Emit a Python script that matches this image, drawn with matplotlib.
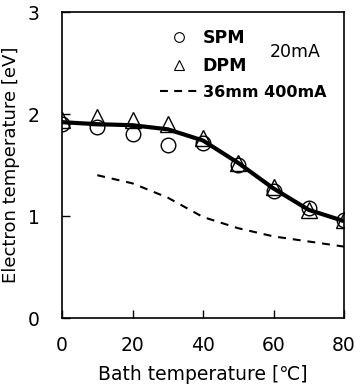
import matplotlib
matplotlib.use("Agg")
import matplotlib.pyplot as plt
from matplotlib.lines import Line2D

plt.rcParams['font.family'] = ['DejaVu Sans', 'Noto Sans CJK JP']

# Data
bath_temp = [0, 10, 20, 30, 40, 50, 60, 70, 80]
spm = [1.90, 1.87, 1.80, 1.70, 1.72, 1.50, 1.25, 1.08, 0.96]
dpm = [1.94, 1.97, 1.94, 1.90, 1.76, 1.52, 1.28, 1.06, 0.96]
fit_20mA = [1.92, 1.90, 1.89, 1.85, 1.74, 1.52, 1.27, 1.06, 0.95]
temp_400mA = [10, 20, 30, 40, 50, 60, 70, 80]
te_400mA = [1.40, 1.32, 1.18, 0.99, 0.88, 0.80, 0.75, 0.70]

x_ticks = [0, 20, 40, 60, 80]
y_ticks = [0, 1, 2, 3]

fig = plt.figure(figsize=(3.61, 3.88), dpi=100)
ax = fig.add_axes([62/361, 1-318/388, (344-62)/361, (318-12)/388])

ax.plot(bath_temp, fit_20mA, color='black', lw=3.0, zorder=3, solid_capstyle='round')
ax.plot(bath_temp, spm, ls='none', marker='o', ms=10.5, mfc='none', mec='black', mew=1.0, zorder=2)
ax.plot(bath_temp, dpm, ls='none', marker='^', ms=12, mfc='none', mec='black', mew=1.0, zorder=2)
ax.plot(temp_400mA, te_400mA, color='black', lw=1.5, ls=(0, (3.8, 3.3)), zorder=2)

ax.set_xlim(0, 80)
ax.set_ylim(0, 3)
ax.set_xticks(x_ticks)
ax.set_yticks(y_ticks)
ax.tick_params(direction='in', length=6, width=1, labelsize=13.5)
ax.tick_params(axis='x', pad=13)
ax.tick_params(axis='y', pad=16)
for s in ax.spines.values():
    s.set_linewidth(1.2)

ax.set_xlabel('Bath temperature [℃]', fontsize=13.5, labelpad=7)
ax.set_ylabel('Electron temperature [eV]', fontsize=13, labelpad=6)

handles = [
    Line2D([], [], ls='none', marker='o', ms=7, mfc='none', mec='black', mew=0.8),
    Line2D([], [], ls='none', marker='^', ms=7, mfc='none', mec='black', mew=0.8),
    Line2D([], [], color='black', lw=1.5, ls=(0, (3.8, 3.0))),
]
leg = ax.legend(handles, ['SPM', 'DPM', '36mm 400mA'], loc='upper left',
                bbox_to_anchor=(0.3475, 0.944), frameon=False, fontsize=12.5,
                handlelength=2.2, handletextpad=0.25, labelspacing=0.58,
                borderaxespad=0, borderpad=0)
for t in leg.get_texts():
    t.set_fontweight('bold')
leg.get_texts()[2].set_fontsize(11.5)
ax.text(0.7376, 0.869, '20mA', transform=ax.transAxes, fontsize=12.5,
        ha='left', va='center')

fig.savefig('out.png', dpi=100)
